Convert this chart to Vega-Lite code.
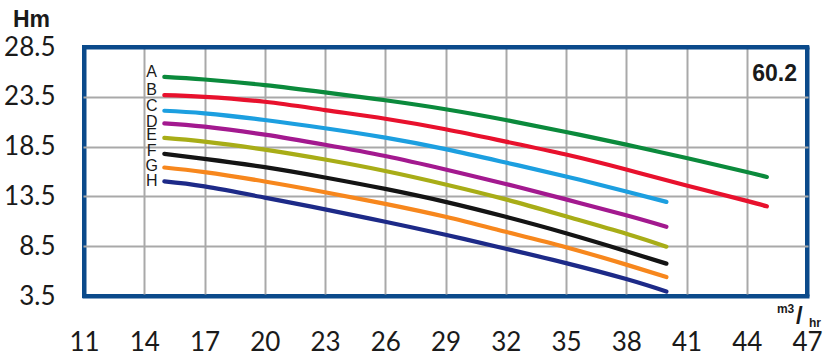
{
  "$schema": "https://vega.github.io/schema/vega-lite/v6.json",
  "width": 723,
  "height": 249,
  "autosize": {"type": "none"},
  "padding": {"left": 84, "top": 47, "right": 32, "bottom": 61},
  "background": "#ffffff",
  "config": {
    "view": {"stroke": "#0b4a8b", "strokeWidth": 4},
    "axis": {
      "grid": true,
      "gridOpacity": 1,
      "domain": false,
      "ticks": false,
      "labelFont": "Lato",
      "labelColor": "#1a1a1a",
      "labelFontSize": 26
    }
  },
  "datasets": {
    "curves": [
      {"series": "A", "x": 15, "y": 25.5}, {"series": "A", "x": 17, "y": 25.24}, {"series": "A", "x": 20, "y": 24.67}, {"series": "A", "x": 23, "y": 23.94}, {"series": "A", "x": 26, "y": 23.15}, {"series": "A", "x": 29, "y": 22.25}, {"series": "A", "x": 32, "y": 21.17}, {"series": "A", "x": 35, "y": 19.97}, {"series": "A", "x": 38, "y": 18.7}, {"series": "A", "x": 41, "y": 17.35}, {"series": "A", "x": 44, "y": 15.95}, {"series": "A", "x": 45, "y": 15.45},
      {"series": "B", "x": 15, "y": 23.67}, {"series": "B", "x": 17, "y": 23.5}, {"series": "B", "x": 20, "y": 23.0}, {"series": "B", "x": 23, "y": 22.17}, {"series": "B", "x": 26, "y": 21.3}, {"series": "B", "x": 29, "y": 20.24}, {"series": "B", "x": 32, "y": 19.0}, {"series": "B", "x": 35, "y": 17.7}, {"series": "B", "x": 38, "y": 16.2}, {"series": "B", "x": 41, "y": 14.6}, {"series": "B", "x": 44, "y": 13.05}, {"series": "B", "x": 45, "y": 12.5},
      {"series": "C", "x": 15, "y": 22.1}, {"series": "C", "x": 17, "y": 21.84}, {"series": "C", "x": 20, "y": 21.17}, {"series": "C", "x": 23, "y": 20.34}, {"series": "C", "x": 26, "y": 19.4}, {"series": "C", "x": 29, "y": 18.25}, {"series": "C", "x": 32, "y": 16.9}, {"series": "C", "x": 35, "y": 15.5}, {"series": "C", "x": 38, "y": 14.0}, {"series": "C", "x": 40, "y": 12.95},
      {"series": "D", "x": 15, "y": 20.84}, {"series": "D", "x": 17, "y": 20.5}, {"series": "D", "x": 20, "y": 19.7}, {"series": "D", "x": 23, "y": 18.68}, {"series": "D", "x": 26, "y": 17.55}, {"series": "D", "x": 29, "y": 16.2}, {"series": "D", "x": 32, "y": 14.75}, {"series": "D", "x": 35, "y": 13.2}, {"series": "D", "x": 38, "y": 11.6}, {"series": "D", "x": 40, "y": 10.45},
      {"series": "E", "x": 15, "y": 19.37}, {"series": "E", "x": 17, "y": 19.0}, {"series": "E", "x": 20, "y": 18.2}, {"series": "E", "x": 23, "y": 17.2}, {"series": "E", "x": 26, "y": 16.05}, {"series": "E", "x": 29, "y": 14.7}, {"series": "E", "x": 32, "y": 13.2}, {"series": "E", "x": 35, "y": 11.5}, {"series": "E", "x": 38, "y": 9.75}, {"series": "E", "x": 40, "y": 8.45},
      {"series": "F", "x": 15, "y": 17.77}, {"series": "F", "x": 17, "y": 17.27}, {"series": "F", "x": 20, "y": 16.44}, {"series": "F", "x": 23, "y": 15.4}, {"series": "F", "x": 26, "y": 14.25}, {"series": "F", "x": 29, "y": 12.95}, {"series": "F", "x": 32, "y": 11.45}, {"series": "F", "x": 35, "y": 9.8}, {"series": "F", "x": 38, "y": 8.0}, {"series": "F", "x": 40, "y": 6.75},
      {"series": "G", "x": 15, "y": 16.4}, {"series": "G", "x": 17, "y": 15.94}, {"series": "G", "x": 20, "y": 15.0}, {"series": "G", "x": 23, "y": 13.92}, {"series": "G", "x": 26, "y": 12.75}, {"series": "G", "x": 29, "y": 11.45}, {"series": "G", "x": 32, "y": 9.95}, {"series": "G", "x": 35, "y": 8.4}, {"series": "G", "x": 38, "y": 6.65}, {"series": "G", "x": 40, "y": 5.4},
      {"series": "H", "x": 15, "y": 15.0}, {"series": "H", "x": 17, "y": 14.5}, {"series": "H", "x": 20, "y": 13.38}, {"series": "H", "x": 23, "y": 12.2}, {"series": "H", "x": 26, "y": 10.95}, {"series": "H", "x": 29, "y": 9.65}, {"series": "H", "x": 32, "y": 8.25}, {"series": "H", "x": 35, "y": 6.8}, {"series": "H", "x": 38, "y": 5.2}, {"series": "H", "x": 40, "y": 3.95}
    ],
    "letters": [
      {"label": "A", "x": 14.37, "y": 26.0},
      {"label": "B", "x": 14.37, "y": 24.16},
      {"label": "C", "x": 14.37, "y": 22.53},
      {"label": "D", "x": 14.37, "y": 20.93},
      {"label": "E", "x": 14.37, "y": 19.66},
      {"label": "F", "x": 14.37, "y": 18.05},
      {"label": "G", "x": 14.37, "y": 16.54},
      {"label": "H", "x": 14.37, "y": 15.03}
    ],
    "model": [{"label": "60.2", "x": 45.39, "y": 25.83}],
    "unitM": [{"label": "m3", "x": 45.5, "y": 1.76}],
    "unitSlash": [{"label": "/", "x": 46.62, "y": 1.36}],
    "unitHr": [{"label": "hr", "x": 47.1, "y": 0.36}]
  },
  "encoding": {
    "x": {
      "field": "x",
      "type": "quantitative",
      "scale": {"domain": [11, 47], "nice": false, "zero": false},
      "axis": {
        "values": [11, 14, 17, 20, 23, 26, 29, 32, 35, 38, 41, 44, 47],
        "title": null,
        "labelPadding": 33,
        "labelFlush": false,
        "labelOverlap": false,
        "gridColor": {"condition": {"test": "datum.value == 11 || datum.value == 47", "value": "#0b4a8b"}, "value": "#a9a9a9"},
        "gridWidth": {"condition": {"test": "datum.value == 11 || datum.value == 47", "value": 4}, "value": 2}
      }
    },
    "y": {
      "field": "y",
      "type": "quantitative",
      "scale": {"domain": [3.5, 28.5], "nice": false, "zero": false},
      "axis": {
        "values": [3.5, 8.5, 13.5, 18.5, 23.5, 28.5],
        "format": ".1f",
        "labelPadding": 29,
        "labelBaseline": "middle",
        "labelFlush": false,
        "labelOverlap": false,
        "gridColor": {"condition": {"test": "datum.value == 3.5 || datum.value == 28.5", "value": "#0b4a8b"}, "value": "#a9a9a9"},
        "gridWidth": {"condition": {"test": "datum.value == 3.5 || datum.value == 28.5", "value": 4}, "value": 2},
        "gridCap": "square",
        "title": "Hm",
        "titleAngle": 0,
        "titleX": -53,
        "titleY": -28,
        "titleAlign": "center",
        "titleBaseline": "middle",
        "titleFont": "Liberation Sans",
        "titleFontSize": 23,
        "titleFontWeight": "bold",
        "titleColor": "#1a1a1a"
      }
    }
  },
  "layer": [
    {
      "data": {"name": "curves"},
      "mark": {"type": "line", "strokeWidth": 4.2, "interpolate": "natural", "strokeCap": "round"},
      "encoding": {
        "color": {
          "field": "series",
          "type": "nominal",
          "scale": {
            "domain": ["A", "B", "C", "D", "E", "F", "G", "H"],
            "range": ["#0b8a3c", "#e8112d", "#1c9fe0", "#a3198f", "#a8ad17", "#141414", "#f7871d", "#1d2a88"]
          },
          "legend": null
        }
      }
    },
    {
      "data": {"name": "letters"},
      "mark": {"type": "text", "font": "Liberation Sans", "fontSize": 16, "color": "#1a1a1a", "align": "center", "baseline": "middle"},
      "encoding": {"text": {"field": "label"}}
    },
    {
      "data": {"name": "model"},
      "mark": {"type": "text", "font": "Liberation Sans", "fontSize": 23, "fontWeight": "bold", "color": "#1a1a1a", "align": "center", "baseline": "middle"},
      "encoding": {"text": {"field": "label"}}
    },
    {
      "data": {"name": "unitM"},
      "mark": {"type": "text", "font": "Liberation Sans", "fontSize": 12, "fontWeight": "bold", "color": "#1a1a1a", "align": "left", "baseline": "alphabetic"},
      "encoding": {"text": {"field": "label"}}
    },
    {
      "data": {"name": "unitSlash"},
      "mark": {"type": "text", "font": "Liberation Sans", "fontSize": 24, "fontWeight": "bold", "color": "#1a1a1a", "align": "center", "baseline": "middle"},
      "encoding": {"text": {"field": "label"}}
    },
    {
      "data": {"name": "unitHr"},
      "mark": {"type": "text", "font": "Liberation Sans", "fontSize": 12, "fontWeight": "bold", "color": "#1a1a1a", "align": "left", "baseline": "alphabetic"},
      "encoding": {"text": {"field": "label"}}
    }
  ]
}
